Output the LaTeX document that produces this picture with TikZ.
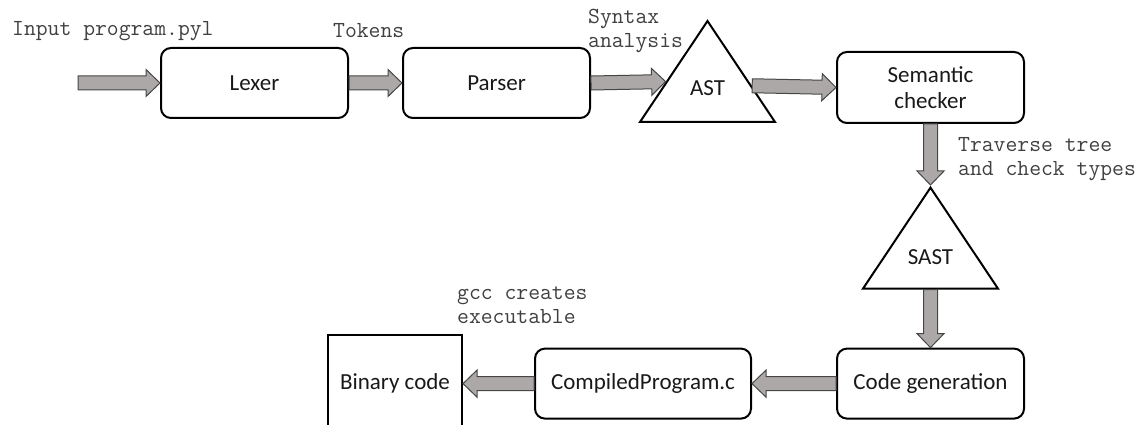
\documentclass[tikz,border=0pt]{standalone}
\usepackage{fontspec}
\setmainfont{Carlito}
\usetikzlibrary{positioning, calc, shapes.geometric}

\definecolor{arrowfill}{RGB}{172,168,168}
\definecolor{arrowline}{RGB}{70,70,70}

% block arrow from #1 to #2
\newcommand{\fatarrow}[2]{%
    \coordinate (fa-s) at (#1);
    \coordinate (fa-t) at (#2);
    \coordinate (fa-h) at ($(fa-t)!14pt!(fa-s)$);
    \draw[fatarr] ($(fa-s)!7pt!90:(fa-t)$) -- ($(fa-h)!7pt!90:(fa-t)$)
        -- ($(fa-h)!13.5pt!90:(fa-t)$) -- (fa-t)
        -- ($(fa-h)!13.5pt!-90:(fa-t)$) -- ($(fa-h)!7pt!-90:(fa-t)$)
        -- ($(fa-s)!7pt!-90:(fa-t)$) -- cycle;
}

\begin{document}
\begin{tikzpicture}[
    x=1pt, y=-1pt,
    font=\fontsize{23}{26}\selectfont,
    text=black!90,
    node distance=53pt,
    proc/.style={draw, line width=2pt, rounded corners=10pt,
        minimum width=187pt, minimum height=70pt, align=center},
    tri/.style={draw, line width=2pt, isosceles triangle,
        isosceles triangle stretches, shape border rotate=90,
        minimum width=135pt, minimum height=101pt, inner sep=0pt,
        text depth=8pt},
    fatarr/.style={fill=arrowfill, draw=arrowline, line width=1pt},
    note/.style={font=\ttfamily\fontsize{23}{24}\selectfont, text=black!75,
        align=left, anchor=west, inner sep=0pt}
]

\useasboundingbox (0,0) rectangle (1146,425);

\coordinate (in) at (78,83);

\node[proc, right=82pt of in] (lexer) {Lexer};
\node[proc, right=of lexer] (parser) {Parser};
\node[tri, anchor=lower side] (ast) at (707.5,123) {AST};
\node[proc, minimum height=71pt] (semantic) at (930.5,87.5) {Semantic\\checker};
\node[tri, anchor=apex] (sast) at (930.5,185) {SAST};
\node[proc, below=58pt of sast.lower side] (codegen) {Code generation};
\node[proc, minimum width=216pt, left=84pt of codegen] (compiled) {CompiledProgram.c};
\node[draw, line width=2pt, minimum width=134pt, minimum height=98pt,
    left=71pt of compiled] (binary) {Binary code};

\node[note] (innote) at (12,31) {Input program.pyl};
\node[note] (toknote) at (333,31) {Tokens};
\node[note] (synnote) at (588,30.5) {Syntax\\analysis};
\node[note] (travnote) at (958,159.5) {Traverse tree\\and check types};
\node[note] (gccnote) at (457,305) {gcc creates\\executable};

\fatarrow{in}{lexer.west}
\fatarrow{lexer.east}{parser.west}
\fatarrow{parser.east}{$(ast.left corner)!0.396!(ast.apex)$}
\fatarrow{$(ast.right corner)!0.356!(ast.apex)$}{semantic.west}
\fatarrow{semantic.south}{sast.apex}
\fatarrow{sast.lower side}{codegen.north}
\fatarrow{codegen.west}{compiled.east}
\fatarrow{compiled.west}{binary.east}

\end{tikzpicture}
\end{document}
